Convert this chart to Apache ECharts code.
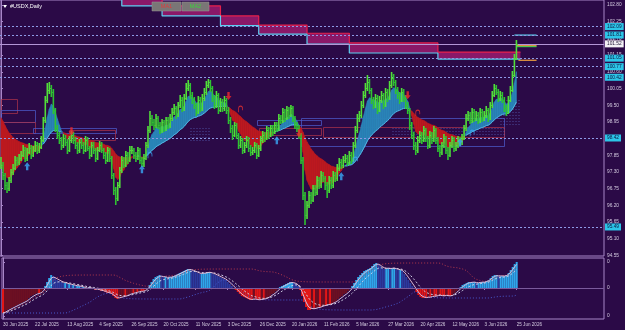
<!DOCTYPE html>
<html><head><meta charset="utf-8">
<script src="https://cdn.jsdelivr.net/npm/echarts@6/dist/echarts.min.js"></script>
<style>html,body{margin:0;padding:0;background:#2b0a47;}#c{width:625px;height:330px;}</style>
</head><body><div id="c"></div>
<script>
// ---------------- DATA ----------------
const dateLabels = ['30 Jun 2025','22 Jul 2025','13 Aug 2025','4 Sep 2025','26 Sep 2025','20 Oct 2025','11 Nov 2025','3 Dec 2025','26 Dec 2025','20 Jan 2026','11 Feb 2026','5 Mar 2026','27 Mar 2026','20 Apr 2026','12 May 2026','3 Jun 2026','25 Jun 2026'];
const dateLabelIdx = [0,16,32,48,64,80,96,112,128,144,160,176,192,208,224,240,256];
const priceTicks = [94.55,95.10,95.65,96.20,96.75,97.30,97.85,98.40,98.95,99.50,100.05,100.60,101.15,101.70,102.25,102.80];
const priceTickLabels = ['94.55','95.10','95.65','96.20','96.75','97.30','97.85','98.40','98.95','99.50','100.05','100.60','101.15','101.70','102.25','102.80'];
const oscTicks = [-0.28, 0, 0.26];

const closes = [97.52,97.19,96.86,96.76,97.03,97.29,97.42,97.69,97.62,97.75,
97.85,98.02,97.75,97.95,98.08,97.85,98.02,98.18,98.02,98.12,
98.35,99.00,99.67,100.00,100.06,99.93,99.34,98.74,98.51,98.35,
98.18,98.41,98.28,98.02,98.35,98.51,98.35,98.18,98.02,98.28,
98.18,98.02,98.35,98.08,97.85,98.18,98.02,97.75,98.02,98.18,
98.02,97.85,97.69,98.02,97.75,97.19,96.70,96.43,96.86,97.36,
97.69,97.52,97.85,97.69,98.02,98.02,97.85,97.75,98.02,97.69,
97.59,97.75,98.18,98.68,99.07,98.94,98.84,99.07,98.84,98.68,
98.94,98.74,99.00,98.84,99.07,99.27,99.40,99.17,99.50,99.67,
99.40,99.73,100.06,100.16,99.83,99.67,99.50,99.27,99.67,99.40,
99.73,99.93,100.16,100.26,100.06,99.73,99.50,99.83,99.34,99.60,
99.40,99.67,99.34,99.00,98.74,98.51,98.84,98.51,98.18,98.35,
98.02,98.18,98.35,98.08,97.95,98.02,98.18,97.85,98.08,98.35,
98.51,98.41,98.68,98.51,98.74,98.61,98.84,98.74,99.07,99.00,
99.27,99.07,99.34,99.17,99.40,99.07,98.84,98.74,98.51,97.69,
96.53,95.87,96.20,96.53,96.37,96.76,96.63,97.03,96.86,97.19,
97.09,96.86,96.70,97.03,96.86,97.19,97.09,97.42,97.62,97.52,
97.69,97.75,97.62,97.85,97.69,98.18,98.68,99.07,99.17,99.50,
99.83,100.06,100.26,100.00,99.67,99.50,99.73,99.34,99.67,99.83,
99.50,99.93,99.73,100.16,100.39,100.26,100.00,99.83,99.67,99.93,
99.73,99.50,99.34,98.84,98.51,98.18,98.02,98.35,98.51,98.35,
98.68,98.41,98.18,98.51,98.35,98.68,98.35,98.08,97.95,98.18,
98.41,98.02,97.85,98.18,98.35,98.08,98.18,98.35,98.28,98.41,
98.74,99.07,99.17,99.00,99.27,99.07,99.17,99.00,99.27,99.07,
99.17,99.34,99.07,99.50,99.83,100.06,99.93,99.73,99.83,99.67,
99.40,99.27,99.67,99.99,100.49,101.05,101.52];

const highs = [97.78,97.62,97.28,96.98,97.15,97.40,97.58,97.82,97.80,97.90,
98.00,98.18,98.12,98.08,98.25,98.18,98.15,98.32,98.28,98.26,
98.50,99.12,99.80,100.22,100.28,100.18,100.02,99.42,98.86,98.62,
98.46,98.55,98.52,98.38,98.48,98.66,98.62,98.45,98.30,98.40,
98.38,98.28,98.48,98.44,98.16,98.30,98.28,98.10,98.14,98.32,
98.28,98.10,97.95,98.14,98.10,97.82,97.28,96.80,96.98,97.48,
97.82,97.80,97.98,97.95,98.15,98.16,98.10,97.96,98.14,98.08,
97.80,97.88,98.30,98.82,99.30,99.18,99.05,99.20,99.16,98.95,
99.06,99.02,99.12,99.10,99.20,99.40,99.55,99.48,99.62,99.82,
99.76,99.86,100.22,100.32,100.24,99.94,99.78,99.58,99.80,99.76,
99.86,100.08,100.30,100.36,100.34,100.14,99.84,99.96,99.90,99.74,
99.70,99.80,99.74,99.44,99.10,98.84,98.96,98.92,98.60,98.48,
98.42,98.30,98.48,98.44,98.18,98.14,98.30,98.25,98.20,98.48,
98.64,98.62,98.80,98.78,98.86,98.84,98.96,98.95,99.20,99.18,
99.40,99.36,99.46,99.44,99.52,99.48,99.16,98.94,98.84,98.60,
97.78,96.64,96.34,96.68,96.64,96.88,96.86,97.16,97.12,97.32,
97.30,97.18,96.96,97.16,97.12,97.32,97.30,97.55,97.76,97.74,
97.82,97.88,97.86,97.98,97.95,98.30,98.80,99.20,99.32,99.64,
99.96,100.22,100.48,100.36,100.08,99.78,99.86,99.82,99.80,99.96,
99.90,100.06,100.02,100.30,100.58,100.52,100.34,100.10,99.94,100.06,
100.02,99.82,99.60,99.42,98.94,98.62,98.28,98.48,98.64,98.62,
98.80,98.76,98.50,98.64,98.62,98.80,98.76,98.44,98.18,98.30,
98.54,98.50,98.12,98.30,98.48,98.44,98.30,98.48,98.44,98.54,
98.86,99.20,99.32,99.26,99.40,99.36,99.30,99.26,99.40,99.36,
99.30,99.48,99.42,99.62,99.96,100.20,100.16,100.02,99.96,99.92,
99.76,99.50,99.80,100.12,100.62,101.20,101.65];

const lows = [97.40,97.05,96.70,96.60,96.68,96.95,97.20,97.35,97.50,97.52,
97.66,97.78,97.62,97.66,97.88,97.74,97.78,97.95,97.90,97.94,
98.05,98.28,98.92,99.58,99.86,99.76,99.20,98.62,98.38,98.22,
98.04,98.08,98.15,97.90,97.95,98.26,98.22,98.06,97.90,97.94,
98.05,97.90,97.95,97.98,97.72,97.78,97.90,97.62,97.68,97.95,
97.92,97.74,97.58,97.62,97.64,97.08,96.55,96.20,96.35,96.78,
97.28,97.42,97.45,97.58,97.62,97.90,97.74,97.62,97.68,97.56,
97.45,97.48,97.70,98.10,98.60,98.82,98.70,98.76,98.72,98.55,
98.60,98.62,98.66,98.72,98.76,98.98,99.18,99.05,99.10,99.42,
99.28,99.32,99.66,99.96,99.72,99.55,99.38,99.14,99.20,99.28,
99.32,99.64,99.85,100.06,99.94,99.60,99.38,99.42,99.20,99.26,
99.28,99.32,99.22,98.88,98.60,98.36,98.44,98.40,98.05,98.10,
97.90,97.94,98.10,97.96,97.82,97.86,97.94,97.72,97.78,98.00,
98.26,98.30,98.34,98.40,98.44,98.50,98.54,98.62,98.66,98.88,
98.92,98.96,99.00,99.06,99.10,98.96,98.72,98.62,98.38,97.55,
96.38,95.55,95.74,96.10,96.24,96.30,96.50,96.55,96.74,96.78,
96.96,96.72,96.45,96.62,96.74,96.78,96.96,97.00,97.34,97.40,
97.44,97.60,97.50,97.54,97.58,97.62,98.10,98.60,98.96,99.08,
99.42,99.74,99.98,99.88,99.54,99.36,99.42,99.22,99.28,99.58,
99.38,99.44,99.62,99.66,100.08,100.14,99.88,99.70,99.55,99.60,
99.62,99.38,99.20,98.70,98.38,98.04,97.86,97.94,98.26,98.22,
98.28,98.30,98.06,98.10,98.22,98.28,98.22,97.96,97.80,97.86,
98.10,97.90,97.70,97.78,98.10,97.96,97.98,98.10,98.16,98.20,
98.34,98.66,98.98,98.88,98.92,98.96,98.98,98.88,98.92,98.96,
98.98,99.08,98.96,99.00,99.42,99.76,99.82,99.62,99.64,99.56,
99.28,99.14,99.20,99.60,99.92,100.42,100.98];

// oscillator histogram (lower panel)
const hist = [-0.25,-0.24,-0.22,
-0.21,-0.20,-0.19,-0.18,-0.17,-0.16,-0.15,-0.14,-0.13,-0.12,
-0.10,-0.08,-0.07,-0.06,-0.05,-0.05,-0.04,-0.02,
0.02,0.06,0.10,0.13,0.12,0.10,0.08,
0.07,0.06,0.05,0.05,0.04,0.04,0.03,0.03,0.02,0.02,0.02,0.01,0.01,
0.00,-0.01,0.01,0.00,-0.01,-0.02,-0.01,-0.02,-0.03,-0.03,
-0.04,-0.05,-0.05,-0.06,-0.08,-0.10,-0.11,-0.10,-0.09,-0.08,-0.08,-0.07,
-0.06,-0.05,-0.05,-0.04,-0.04,-0.03,-0.03,-0.03,-0.02,
0.00,0.03,0.06,0.09,0.11,0.12,0.13,
0.12,0.11,0.11,0.10,0.11,0.11,0.12,0.13,
0.14,0.15,0.16,0.17,0.18,0.19,0.19,0.18,0.17,
0.16,0.15,0.14,0.14,0.15,0.15,0.16,0.16,0.15,0.14,0.13,
0.12,0.11,0.10,0.09,0.08,0.06,0.04,0.02,0.00,-0.02,-0.04,
-0.06,-0.08,-0.09,-0.10,-0.11,-0.12,-0.12,-0.11,-0.11,-0.12,-0.12,
-0.11,-0.11,-0.10,-0.09,-0.08,-0.06,-0.05,-0.03,
-0.01,0.01,0.02,0.03,0.04,0.05,0.06,0.06,0.05,0.04,
0.02,-0.02,-0.08,-0.14,-0.19,-0.22,
-0.22,-0.21,-0.21,-0.20,-0.19,-0.19,-0.18,-0.17,
-0.17,-0.16,-0.16,-0.15,-0.14,-0.13,
-0.11,-0.09,-0.08,-0.06,-0.05,-0.03,-0.01,
0.02,0.05,0.08,0.11,0.13,0.15,0.17,0.18,0.19,0.20,0.22,0.24,0.25,
0.24,0.22,0.20,0.19,0.19,0.20,0.19,0.20,0.20,0.19,0.18,0.18,0.17,
0.14,0.11,0.08,0.05,0.02,-0.01,-0.04,
-0.07,-0.09,-0.10,-0.10,-0.10,-0.09,-0.09,
-0.08,-0.08,-0.08,-0.07,-0.07,-0.08,-0.08,-0.07,-0.08,-0.08,-0.07,
-0.05,-0.03,-0.01,0.01,0.03,
0.04,0.05,0.06,0.06,0.06,0.06,0.05,0.05,0.06,0.06,0.06,
0.07,0.08,0.10,0.12,0.13,0.13,0.12,0.12,0.12,
0.12,0.13,0.15,0.18,0.21,0.24,0.26];

// stepped resistance band at the top
const stepStart = [60,80,109,128,152,173,217];
const stepEnd   = [80,109,128,152,173,217,258];
const stepUpper = [103.20,102.77,102.44,102.14,101.87,101.55,101.25];
const stepLower = [102.77,102.44,102.12,101.84,101.51,101.22,101.02];

// horizontal levels
const levels = [102.09,101.81,101.05,100.77,100.42,98.42,95.49];
const bidLevel = 101.52;

// signal arrows [bar index, price]
const upArrows = [[13,97.49],[70,97.39],[137,98.35],[169,97.16],[228,98.28]];
const downArrows = [[35,98.64],[113,99.80],[148,98.58],[202,99.83]];
// small hook marks near the ribbon crossings [bar index, price]
const hookUp = [[74,97.85],[176,97.69],[234,98.58]];
const hookDn = [[119,99.37],[207,99.24]];

// zone boxes
const zoneStart = [0,0,0,16,34,94,127,128,149,160,194,248];
const zoneEnd   = [8,17,17,57,57,104,159,159,250,250,250,258];
const zoneHigh  = [99.70,99.35,98.95,98.74,98.68,98.75,99.00,98.74,99.07,98.77,98.74,99.67];
const zoneLow   = [99.25,98.95,98.60,98.57,98.35,98.35,98.84,98.51,98.15,98.44,98.51,98.80];
const zoneKind  = ['r','b','r','b','r','d','b','r','b','r','d','d'];

// short level stubs right of the last bar
const stubStart = [255,256,256,257];
const stubEnd   = [266,266,266,266];
const stubValue = [101.81,101.46,101.43,100.98];

// moving-average starting values read at the first bar (fast, slow)
const maSeed = [97.50, 99.20];

// ---------------- CHART ----------------
const BG = '#2b0a47';
const FRAME = '#a886c8';
const TXT = '#d4cbe0';
const FONT = "'Liberation Sans',sans-serif";
const N = closes.length;

function ema(arr, n, seed){
  const k = 2/(n+1); const out = []; let p = seed === undefined ? arr[0] : seed;
  for (let i=0;i<arr.length;i++){ if(!(i===0 && seed===undefined)) p = p + k*(arr[i]-p); out.push(p); }
  return out;
}
const fast = ema(closes, 6, maSeed[0]);
const slow = ema(closes, 30, maSeed[1]);

const ribbonData = [];
for (let i=1;i<N;i++) ribbonData.push([i, fast[i-1], slow[i-1], fast[i], slow[i]]);

function ribbonItem(params, api){
  const i = api.value(0), f0 = api.value(1), s0 = api.value(2), f1 = api.value(3), s1 = api.value(4);
  const d0 = f0 - s0, d1 = f1 - s1;
  const ch = [];
  const RED = '#bc1a20', BLUE = '#2a84b8', EDGE = '#55b6e6';
  const poly = (pts, up) => ch.push({type:'polygon', shape:{points: pts.map(p => api.coord(p))},
      style:{fill: up ? BLUE : RED, stroke: up ? BLUE : RED, lineWidth: 0.6}});
  if (d0*d1 >= 0){
    poly([[i-1,f0],[i,f1],[i,s1],[i-1,s0]], (d0+d1) >= 0);
    if (d0+d1 >= 0){ const a = api.coord([i-1,s0]), b = api.coord([i,s1]);
      ch.push({type:'line', shape:{x1:a[0],y1:a[1],x2:b[0],y2:b[1]}, style:{stroke:EDGE, lineWidth:1}}); }
  } else {
    const t = d0/(d0-d1), xc = i-1+t, yc = f0+(f1-f0)*t;
    poly([[i-1,f0],[xc,yc],[i-1,s0]], d0 > 0);
    poly([[xc,yc],[i,f1],[i,s1]], d1 > 0);
  }
  return {type:'group', children: ch};
}

const barData = closes.map((c,i) => [i, lows[i], highs[i], c, (i===0 || c >= closes[i-1]) ? 1 : 0]);
function barItem(params, api){
  const i = api.value(0), lo = api.value(1), hi = api.value(2), c = api.value(3), up = api.value(4);
  const a = api.coord([i,lo]), b = api.coord([i,hi]), pc = api.coord([i,c]);
  const x = a[0], yc = Math.round(pc[1]) + 0.5;
  const col = up ? '#52de3a' : '#2fc232';
  return {type:'group', children:[
    {type:'line', shape:{x1:x,y1:Math.round(a[1]),x2:x,y2:Math.round(b[1])}, style:{stroke:col, lineWidth:1.6}},
    {type:'line', shape:{x1:x,y1:yc,x2:x+1.6,y2:yc}, style:{stroke:col, lineWidth:1}}
  ]};
}

const stepData = stepStart.map((s,k) => [s, stepEnd[k], stepUpper[k], stepLower[k]]);
function stepItem(params, api){
  const a = api.coord([api.value(0), api.value(2)]), b = api.coord([api.value(1), api.value(3)]);
  return {type:'rect', shape:{x:a[0], y:a[1], width:b[0]-a[0], height:b[1]-a[1]}, style:{fill:'#8a1868'}};
}
const upperEdge = [], lowerEdge = [[stepStart[0], 103.3]];
stepStart.forEach((s,k) => { upperEdge.push([s, stepUpper[k]], [stepEnd[k], stepUpper[k]]);
                             lowerEdge.push([s, stepLower[k]], [stepEnd[k], stepLower[k]]); });

const zoneData = zoneStart.map((s,k) => [s, zoneEnd[k], zoneHigh[k], zoneLow[k], zoneKind[k]==='r'?0:zoneKind[k]==='b'?1:2]);
function zoneItem(params, api){
  const a = api.coord([api.value(0), api.value(2)]), b = api.coord([api.value(1), api.value(3)]);
  const kind = api.value(4);
  const x = Math.round(a[0])+0.5, y = Math.round(a[1])+0.5, w = Math.round(b[0]-a[0]), h = Math.round(b[1]-a[1]);
  if (kind === 2){
    const ch = [];
    for (let yy = y; yy <= y+h; yy += 3) ch.push({type:'line', shape:{x1:x,y1:yy,x2:x+w,y2:yy}, style:{stroke:'#5a66c0', lineWidth:1, lineDash:[1,2], opacity:0.7}});
    return {type:'group', children: ch};
  }
  return {type:'rect', shape:{x:x, y:y, width:w, height:h}, style:{fill:'none', stroke: kind===0 ? '#a8324a' : '#4c5ac8', lineWidth:1, opacity:0.75}};
}

const stubColors = ['#5cd0f0','#f0a040','#4cc84c','#f0a040'];
const stubData = stubStart.map((s,k) => [s, stubEnd[k], stubValue[k], k]);
function stubItem(params, api){
  const a = api.coord([api.value(0), api.value(2)]), b = api.coord([api.value(1), api.value(2)]);
  return {type:'line', shape:{x1:a[0],y1:a[1],x2:b[0],y2:b[1]}, style:{stroke: stubColors[api.value(3)], lineWidth:1.2}};
}

const histData = hist.map((v,i) => {
  const p = i>0 ? hist[i-1] : v;
  const col = v >= 0 ? (v >= p ? '#2ea6ea' : '#2b3a9e') : (v <= p ? '#e21616' : '#6c0f22');
  return {value:[i, v], itemStyle:{color: col}};
});
const oscLine = ema(hist, 3);
const oscSig = ema(hist, 9);
function rolling(arr, n, fn){ return arr.map((v,i) => fn(...arr.slice(Math.max(0,i-n+1), i+1))); }
const bandUp = ema(rolling(hist, 32, Math.max), 6);
const bandDn = ema(rolling(hist, 32, Math.min), 6);
const idx = a => a.map((v,i) => [i, v]);

const arrowUp = 'path://M5,0 L10,5 L7,5 L7,10 L3,10 L3,5 L0,5 Z';
const arrowDn = 'path://M5,10 L10,5 L7,5 L7,0 L3,0 L3,5 L0,5 Z';
const hookPath = 'path://M0,10 L0,4 Q0,0 4,0 Q8,0 8,4 L8,7';

const labelFmt = v => { let k = 0, d = 1e9; priceTicks.forEach((t,j) => { if (Math.abs(t-v) < d){ d = Math.abs(t-v); k = j; } }); return priceTickLabels[k]; };
const dateFmt = v => { const k = dateLabelIdx.indexOf(Math.round(v)); return k >= 0 ? dateLabels[k] : ''; };

const chart = echarts.init(document.getElementById('c'), null, {renderer:'canvas', width:625, height:330});
chart.setOption({
  backgroundColor: BG,
  animation: false,
  textStyle: {fontFamily: FONT},
  grid: [
    {left:0, right:21, top:0, height:256, show:true, borderColor:FRAME, borderWidth:1, backgroundColor:'transparent'},
    {left:0, right:21, top:258, height:61, show:true, borderColor:FRAME, borderWidth:1, backgroundColor:'transparent'}
  ],
  xAxis: [
    {gridIndex:0, type:'value', min:-0.5, max:299.5, show:false},
    {gridIndex:1, type:'value', min:-0.5, max:299.5, splitLine:{show:false},
     axisLine:{show:false},
     axisTick:{show:true, customValues: dateLabelIdx, length:2, lineStyle:{color:FRAME}},
     axisLabel:{customValues: dateLabelIdx, formatter: dateFmt, color:TXT, fontSize:4.6, fontFamily:FONT, align:'left', margin:3}}
  ],
  yAxis: [
    {gridIndex:0, type:'value', position:'right', min:94.534, max:102.965, splitLine:{show:false},
     axisLine:{show:true, lineStyle:{color:FRAME}},
     axisTick:{show:true, customValues: priceTicks, length:2, lineStyle:{color:FRAME}},
     axisLabel:{customValues: priceTicks, formatter: labelFmt, color:TXT, fontSize:4.8, fontFamily:FONT, margin:3}},
    {gridIndex:1, type:'value', position:'right', min:-0.31, max:0.30, splitLine:{show:false},
     axisLine:{show:true, lineStyle:{color:FRAME}},
     axisTick:{show:true, customValues: oscTicks, length:2, lineStyle:{color:FRAME}},
     axisLabel:{customValues: oscTicks, formatter: v => String(Math.round(v) + 0), color:TXT, fontSize:4.8, fontFamily:FONT, margin:3}}
  ],
  series: [
    {type:'custom', name:'zones', xAxisIndex:0, yAxisIndex:0, renderItem: zoneItem, data: zoneData, clip:true, z:1,
     encode:{x:[0,1], y:[2,3]}, silent:true},
    {type:'custom', name:'ribbon', xAxisIndex:0, yAxisIndex:0, renderItem: ribbonItem, data: ribbonData, clip:true, z:2,
     encode:{x:0, y:[1,2,3,4]}, silent:true},
    {type:'line', name:'levels', xAxisIndex:0, yAxisIndex:0, data:[], z:3,
     markLine:{silent:true, symbol:'none', animation:false, precision:2,
       lineStyle:{color:'#8e9ae6', type:[2,2], width:1},
       label:{show:true, position:'end', distance:1, formatter: p => p.value.toFixed(2), backgroundColor:'#2cc6e8', color:'#0b1640', fontSize:4.8, fontFamily:FONT, padding:[1,2,1,2]},
       data: levels.map(v => ({yAxis: v}))}},
    {type:'line', name:'bid', xAxisIndex:0, yAxisIndex:0, data:[], z:3,
     markLine:{silent:true, symbol:'none', animation:false,
       lineStyle:{color:'#b496d6', type:'solid', width:1},
       label:{show:true, position:'end', distance:1, formatter: p => p.value.toFixed(2), backgroundColor:'#f2f0f4', color:'#1a1030', fontSize:4.8, fontFamily:FONT, padding:[1,2,1,2]},
       data: [{yAxis: bidLevel}]}},
    {type:'custom', name:'stepFill', xAxisIndex:0, yAxisIndex:0, renderItem: stepItem, data: stepData, clip:true, z:3,
     encode:{x:[0,1], y:[2,3]}, silent:true},
    {type:'line', name:'stepUpper', xAxisIndex:0, yAxisIndex:0, data: upperEdge, symbol:'none', z:4,
     lineStyle:{color:'#e8204c', width:1.2}, silent:true},
    {type:'line', name:'stepLower', xAxisIndex:0, yAxisIndex:0, data: lowerEdge, symbol:'none', z:4,
     lineStyle:{color:'#5ccff0', width:1.2}, silent:true},
    {type:'custom', name:'stubs', xAxisIndex:0, yAxisIndex:0, renderItem: stubItem, data: stubData, clip:false, z:4,
     encode:{x:[0,1], y:2}, silent:true},
    {type:'custom', name:'price', xAxisIndex:0, yAxisIndex:0, renderItem: barItem, data: barData, clip:true, z:5,
     encode:{x:0, y:[1,2]}, silent:true},
    {type:'scatter', name:'buy', xAxisIndex:0, yAxisIndex:0, data: upArrows, symbol: arrowUp, symbolSize:[6,8],
     itemStyle:{color:'#3aa8f6'}, z:6, silent:true},
    {type:'scatter', name:'sell', xAxisIndex:0, yAxisIndex:0, data: downArrows, symbol: arrowDn, symbolSize:[6,8],
     itemStyle:{color:'#f22a2a'}, z:6, silent:true},
    {type:'scatter', name:'hookUp', xAxisIndex:0, yAxisIndex:0, data: hookUp, symbol: hookPath, symbolSize:[4,6],
     itemStyle:{color:'transparent', borderColor:'#3aa8f6', borderWidth:1}, z:6, silent:true},
    {type:'scatter', name:'hookDn', xAxisIndex:0, yAxisIndex:0, data: hookDn, symbol: hookPath, symbolSize:[4,6],
     itemStyle:{color:'transparent', borderColor:'#e83030', borderWidth:1}, z:6, silent:true},
    // lower panel
    {type:'bar', name:'osc', xAxisIndex:1, yAxisIndex:1, data: histData, barWidth:2, z:2, silent:true,
     markLine:{silent:true, symbol:'none', animation:false, label:{show:false}, lineStyle:{color:'#7a5a9c', type:'solid', width:1}, data:[{yAxis:0}]}},
    {type:'line', name:'bandUp', xAxisIndex:1, yAxisIndex:1, data: idx(bandUp), symbol:'none', z:3, silent:true,
     lineStyle:{color:'#b83a4c', width:1, type:[1,2]}},
    {type:'line', name:'bandDn', xAxisIndex:1, yAxisIndex:1, data: idx(bandDn), symbol:'none', z:3, silent:true,
     lineStyle:{color:'#4a5ad0', width:1, type:[1,2]}},
    {type:'line', name:'sig', xAxisIndex:1, yAxisIndex:1, data: idx(oscSig), symbol:'none', z:4, silent:true,
     lineStyle:{color:'#cfcfe6', width:1, type:[2,2]}},
    {type:'line', name:'oscLine', xAxisIndex:1, yAxisIndex:1, data: idx(oscLine), symbol:'none', z:4, silent:true,
     lineStyle:{color:'#dcbcd8', width:1}}
  ],
  graphic: [
    {type:'polygon', z:100, shape:{points:[[3,5],[7,5],[5,8]]}, style:{fill:'#ffffff'}},
    {type:'text', z:100, x:10, y:3, style:{text:'#USDX,Daily', fill:'#ffffff', fontSize:5.5, fontFamily:FONT}},
    {type:'rect', z:100, shape:{x:152, y:2, width:29, height:9}, style:{fill:'#7a7676', stroke:'#9a9696', lineWidth:0.5}},
    {type:'text', z:101, x:166.5, y:6.5, style:{text:'MA1', fill:'#e23a3a', fontSize:5.5, fontFamily:FONT, align:'center', verticalAlign:'middle'}},
    {type:'rect', z:100, shape:{x:182, y:2, width:27, height:9}, style:{fill:'#7a7676', stroke:'#9a9696', lineWidth:0.5}},
    {type:'text', z:101, x:195.5, y:6.5, style:{text:'MA2', fill:'#3ad43a', fontSize:5.5, fontFamily:FONT, align:'center', verticalAlign:'middle'}}
  ]
});
</script>
</body></html>
